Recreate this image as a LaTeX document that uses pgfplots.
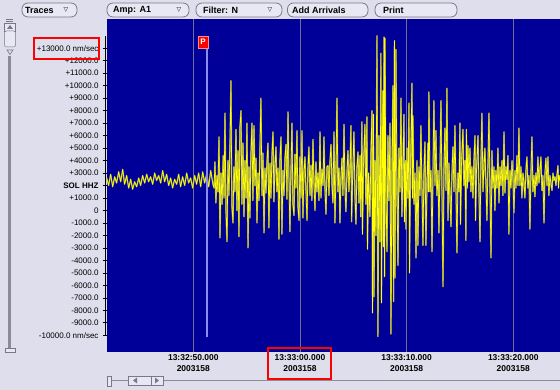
\documentclass[border=0pt]{standalone}
\usepackage{fontspec}
\setmainfont{Liberation Sans}
\newfontfamily\djv{DejaVu Sans}
\usepackage{pgfplots}
\usepackage{pgfplotstable}
\pgfplotsset{compat=1.18}
\definecolor{bg}{RGB}{222,222,236}
\definecolor{plotblue}{RGB}{0,0,153}
\definecolor{traceyellow}{RGB}{255,255,0}
\definecolor{tracegray}{RGB}{140,140,100}
\definecolor{gridcol}{RGB}{110,110,150}
\definecolor{pline}{RGB}{140,140,235}
\definecolor{btnfill}{RGB}{232,232,244}
\definecolor{btnborder}{RGB}{120,120,135}
\definecolor{trackcol}{RGB}{140,140,150}

\pgfplotstableread{
t v
41.88 2600
42.06 2000
42.25 2900
42.44 1900
42.63 2700
42.81 2200
43.00 3100
43.19 2300
43.38 3300
43.56 2100
43.75 2800
43.94 1800
44.13 2500
44.31 1700
44.50 2300
44.69 1900
44.88 2600
45.06 2000
45.25 2800
45.44 2200
45.63 2900
45.81 2300
46.00 2700
46.19 2100
46.38 3000
46.56 2400
46.75 2800
46.94 2200
47.13 3200
47.31 2300
47.50 2900
47.69 2000
47.88 2600
48.06 1800
48.25 2500
48.44 2100
48.63 2900
48.81 1900
49.00 2700
49.19 2000
49.38 3000
49.56 2200
49.75 2600
49.94 1800
50.13 2800
50.31 2100
50.50 3000
50.69 1900
50.88 3100
51.06 2200
51.25 2900
51.44 1900
51.63 3200
51.84 2100
51.95 1800
52.03 3900
52.12 600
52.22 2800
52.31 1500
52.41 5900
52.50 -2200
52.60 3000
52.70 500
52.80 4400
52.88 1000
52.97 7800
53.06 0
53.16 -2500
53.25 4000
53.34 1200
53.44 5500
53.53 10400
53.62 300
53.72 -1000
53.81 3500
53.90 1500
54.00 6500
54.09 0
54.19 4800
54.28 -2100
54.37 6700
54.47 8000
54.56 500
54.66 5400
54.75 -500
54.84 4000
54.94 1000
55.03 7000
55.13 -3000
55.22 3500
55.31 -600
55.40 4500
55.50 7000
55.59 800
55.69 6800
55.78 2000
55.88 4200
55.97 -1000
56.06 3000
56.16 800
56.25 5200
56.34 9000
56.44 1200
56.53 4600
56.63 -1800
56.72 3400
56.81 1400
56.91 4000
57.00 5400
57.09 -1400
57.19 3800
57.28 1000
57.38 4600
57.47 6300
57.56 700
57.66 3600
57.75 5100
57.84 1500
57.94 3400
58.03 -2300
58.12 4000
58.22 5900
58.31 -1900
58.41 3200
58.50 1200
58.59 4200
58.69 5300
58.78 900
58.88 7900
58.97 2500
59.06 -1700
59.16 3500
59.25 7000
59.34 500
59.44 -400
59.53 4500
59.62 1800
59.72 6400
59.81 300
59.91 -800
60.00 4300
60.09 1000
60.19 6400
60.28 -600
60.37 3000
60.47 4300
60.56 1600
60.66 -800
60.75 3400
60.84 5100
60.94 1200
61.03 3600
61.12 800
61.22 5700
61.31 2200
61.41 0
61.50 3900
61.59 1500
61.69 3000
61.78 800
61.88 6300
61.97 1000
62.06 3300
62.16 2000
62.25 5900
62.34 1800
62.44 -300
62.53 3500
62.63 3600
62.72 1200
62.81 3900
62.91 5300
63.00 2000
63.09 600
63.19 6300
63.28 -1000
63.37 2800
63.47 9000
63.56 1500
63.66 3400
63.75 -1000
63.84 2600
63.94 4200
64.03 1200
64.13 6900
64.22 1800
64.31 -100
64.41 3200
64.50 4800
64.59 1500
64.69 3500
64.78 6800
64.84 -900
64.94 2800
65.06 6300
65.16 1000
65.25 -1100
65.34 3500
65.44 4700
65.53 600
65.63 4400
65.70 -500
65.81 7100
65.86 -1900
65.95 3500
66.09 6900
66.18 500
66.28 7500
66.33 -3100
66.42 3000
66.56 -500
66.65 4500
66.75 8000
66.80 -8200
66.89 7700
66.94 -6900
67.03 4000
67.12 -2000
67.22 14000
67.31 -10100
67.40 6000
67.50 -2500
67.59 12600
67.64 -7400
67.72 5000
67.78 9600
67.83 -2900
67.88 13900
67.93 -5300
67.97 13800
68.06 1000
68.16 -3300
68.25 6000
68.34 800
68.44 7000
68.53 -9900
68.63 4000
68.72 10000
68.78 -7300
68.86 13600
68.91 -5400
69.00 12900
69.09 2000
69.19 -4400
69.28 5000
69.37 1500
69.47 9000
69.56 -500
69.66 3500
69.75 7700
69.80 -900
69.88 4000
69.94 -1500
70.03 5000
70.12 1000
70.22 8600
70.27 -5000
70.36 3000
70.50 10200
70.55 1000
70.59 7600
70.69 500
70.78 3000
70.88 -3800
70.97 4000
71.06 -2800
71.16 3500
71.25 1200
71.34 6800
71.44 1500
71.53 -2800
71.62 3000
71.72 5500
71.81 -2800
71.91 2000
72.00 5400
72.05 1500
72.09 9500
72.19 1500
72.28 3200
72.38 -3300
72.47 3000
72.56 8800
72.66 2000
72.75 6400
72.84 1200
72.94 3200
73.03 -1800
73.12 3000
73.22 8800
73.31 1800
73.41 -6100
73.50 3500
73.59 6600
73.69 1600
73.78 9800
73.88 -800
73.97 3800
74.06 1200
74.16 -1300
74.25 3000
74.34 5100
74.44 1500
74.53 6800
74.62 2000
74.72 -3400
74.81 3000
74.91 1500
75.00 7000
75.05 -1100
75.14 3600
75.28 6500
75.37 2000
75.47 4000
75.56 -2400
75.60 6500
75.70 1800
75.75 5200
75.84 2300
75.94 5000
76.03 1500
76.12 3500
76.22 1000
76.31 4000
76.41 6000
76.46 -800
76.55 3200
76.69 6000
76.78 1500
76.88 -2500
76.97 4000
77.06 7800
77.16 1500
77.25 3500
77.34 5000
77.44 2000
77.53 -800
77.62 3500
77.72 7800
77.81 2000
77.91 -3800
78.00 4800
78.09 1800
78.19 3500
78.28 0
78.37 3200
78.47 1800
78.56 5000
78.66 600
78.75 3500
78.84 2000
78.94 4000
79.03 1200
79.13 6300
79.22 1400
79.31 3500
79.41 2500
79.50 4400
79.59 -1900
79.69 3200
79.78 1800
79.88 4000
79.97 2500
80.06 -200
80.16 3200
80.25 1800
80.34 4400
80.44 2000
80.53 6600
80.62 2000
80.72 3500
80.81 1000
80.91 3000
81.00 2200
81.09 1000
81.19 3300
81.28 4300
81.37 1800
81.47 2800
81.56 -1500
81.66 3200
81.75 5900
81.84 1500
81.94 2800
82.03 1100
82.12 3000
82.22 2000
82.31 4300
82.41 2200
82.50 3200
82.59 4300
82.69 1600
82.78 2800
82.88 -1000
82.97 3000
83.06 4200
83.16 2000
83.25 4300
83.34 1200
83.44 2800
83.53 2200
83.63 1600
83.72 3000
83.81 2400
83.91 2700
84.00 2000
84.09 2800
84.19 3600
84.24 1800
84.30 2800
84.38 2400
}\trace

\begin{document}
\begin{tikzpicture}[x=1pt,y=1pt]
\path[use as bounding box] (0,0) rectangle (560,390);
\fill[bg] (0,0) rectangle (560,390);

% toolbar buttons
\tikzset{btn/.style={draw=btnborder, fill=btnfill, rounded corners=6pt, line width=0.8pt},
         btntxt/.style={anchor=west, inner sep=0pt, font=\fontsize{9}{10}\selectfont\bfseries},
         tri/.style={inner sep=0pt, font=\djv\fontsize{6}{7}\selectfont}}
\draw[btn] (22,373) rectangle (77,387);
\node[btntxt] at (25,380) {Traces};
\node[tri] at (66,380) {▽};
\draw[btn] (107,373) rectangle (189,387);
\node[btntxt] at (113,380) {Amp: A1};
\node[tri] at (179,380) {▽};
\draw[btn] (196,373) rectangle (282,387);
\node[btntxt] at (203,380) {Filter: N};
\node[tri] at (270,380) {▽};
\draw[btn] (287.5,373) rectangle (368,387);
\node[btntxt] at (292,380) {Add Arrivals};
\draw[btn] (375,373) rectangle (457,387);
\node[btntxt] at (383,380) {Print};

% left scrollbar
\draw[btnborder, line width=0.6pt] (5.5,370.4) -- (12.5,370.4);
\draw[btnborder, line width=0.6pt] (5.5,368.4) -- (12.5,368.4);
\draw[btnborder, fill=btnfill, line width=0.5pt] (4.5,359) rectangle (15.5,367);
\fill[btnborder] (7,361) -- (13,361) -- (10,365) -- cycle;
\draw[btnborder, fill=btnfill, line width=0.5pt, rounded corners=2pt] (4.5,343) rectangle (15.5,359);
\draw[btnborder, line width=0.6pt] (7,340) -- (13,340) -- (10,335.5) -- cycle;
\draw[trackcol, line width=2.2pt] (9.5,334) -- (9.5,41.5);
\draw[btnborder, fill=btnfill, line width=0.5pt] (5,38) rectangle (15,41.5);

% bottom scrollbar
\draw[trackcol, line width=1.6pt] (111,9.5) -- (560,9.5);
\draw[btnborder, fill=btnfill, line width=0.5pt] (107,4) rectangle (111,14);
\draw[btnborder, fill=btnfill, line width=0.5pt] (128,5) rectangle (163,14);
\draw[btnborder, line width=0.5pt] (151,5) -- (151,14);
\fill[btnborder] (137,6.5) -- (137,12.5) -- (133,9.5) -- cycle;
\fill[btnborder] (155,6.5) -- (155,12.5) -- (159,9.5) -- cycle;

\begin{axis}[
  at={(106.7pt,37.5pt)}, anchor=south west, scale only axis,
  width=453.3pt, height=333.5pt,
  xmin=41.88, xmax=84.38, ymin=-11380, ymax=15345,
  scaled x ticks=false, scaled y ticks=false,
  axis background/.style={fill=plotblue},
  axis line style={draw=none},
  xtick={50,60,70,80},
  xticklabels={{13:32:50.000\\2003158},{13:33:00.000\\2003158},{13:33:10.000\\2003158},{13:33:20.000\\2003158}},
  xticklabel style={align=center, font=\fontsize{8.5}{11}\selectfont\bfseries, inner sep=1pt, yshift=3pt},
  ytick={-10000,-9000,-8000,-7000,-6000,-5000,-4000,-3000,-2000,-1000,0,1000,2000,3000,4000,5000,6000,7000,8000,9000,10000,11000,12000,13000},
  yticklabels={{-10000.0 nm/sec},{-9000.0},{-8000.0},{-7000.0},{-6000.0},{-5000.0},{-4000.0},{-3000.0},{-2000.0},{-1000.0},{0},{+1000.0},{\textbf{SOL HHZ}},{+3000.0},{+4000.0},{+5000.0},{+6000.0},{+7000.0},{+8000.0},{+9000.0},{+10000.0},{+11000.0},{+12000.0},{+13000.0 nm/sec}},
  yticklabel style={font=\fontsize{8}{9}\selectfont, inner sep=1pt, xshift=-3pt},
  tick align=outside, major tick length=4pt,
  xtick style={draw=none}, ytick style={black, line width=0.6pt},
  xtick pos=bottom, ytick pos=left,
  xmajorgrids=true, ymajorgrids=false,
  grid style={gridcol, line width=0.6pt},
]
\addplot[tracegray, line width=1.4pt, line join=round] table[x=t,y=v]{\trace};
\addplot[traceyellow, line width=0.6pt, line join=round] table[x=t,y=v]{\trace};
\addplot[pline, line width=1.4pt] coordinates {(51.28,12940) (51.28,-10150)};
\node[fill=red, draw={rgb,255:red,255;green,140;blue,140}, line width=0.6pt, text=white,
      font=\fontsize{8}{8}\selectfont\bfseries, minimum width=10pt, minimum height=12pt, inner sep=0pt]
      at (axis cs:50.91,13500) {P};
\end{axis}

% y axis line
\draw[black, line width=0.8pt] (105.6,354) -- (105.6,54.7);

% red annotation boxes
\draw[red, line width=2pt] (34.3,331) rectangle (99.3,351.7);
\draw[red, line width=2pt] (268.3,11) rectangle (330.7,41.7);
\end{tikzpicture}
\end{document}
